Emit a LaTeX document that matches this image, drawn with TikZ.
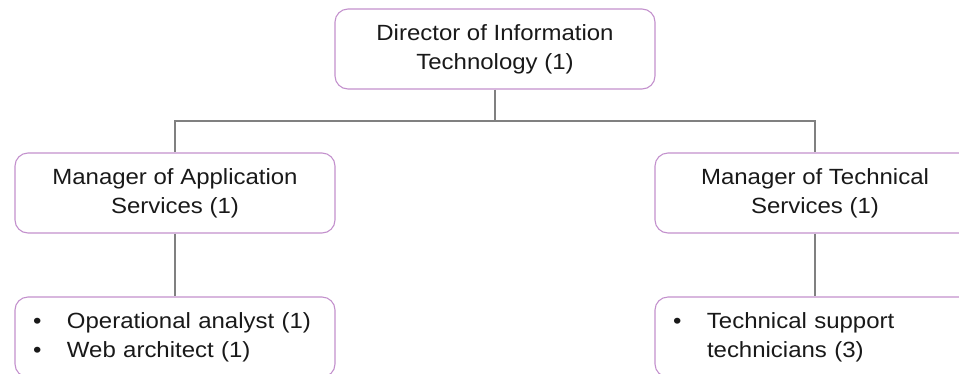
\documentclass[tikz,border=0pt]{standalone}
\usepackage{fontspec}
\setmainfont{Liberation Sans}[FakeStretch=1.09]
\definecolor{boxline}{RGB}{195,145,205}
\definecolor{linkgray}{RGB}{128,128,128}
\newcommand{\bul}{\makebox[34pt][l]{\textbullet}}

\begin{document}
\begin{tikzpicture}[x=1pt,y=-1pt,
  post/.style={draw=boxline,line width=1.1pt,rounded corners=13pt,
    minimum width=320pt,minimum height=80pt,inner sep=0pt,align=center,
    text=black!90,font=\fontsize{22}{29}\selectfont},
  list/.style={post,align=left,text width=284pt},
  link/.style={draw=linkgray,line width=1.2pt}]
  \useasboundingbox (0,0) rectangle (959,373);
  \clip (0,0) rectangle (959,373);
  % top of the chart
  \node[post]   (DIT)  at (495,49)  {Director of Information\\Technology (1)};
  \coordinate   (J)    at (495,121);
  % managers
  \node[post]   (MAS)  at (175,193) {Manager of Application\\Services (1)};
  \node[post]   (MTS)  at (815,193) {Manager of Technical\\Services (1)};
  % staff lists (cut off at the bottom)
  \node[list]   (AS)   at (175,337) {\bul Operational analyst (1)\\\bul Web architect (1)};
  \node[list]   (TS)   at (815,337) {\bul Technical support\\\hspace*{34pt}technicians (3)};
  \draw[link] (DIT.south) -- (J) -| (MAS.north);
  \draw[link] (J) -| (MTS.north);
  \draw[link] (MAS.south) -- (AS.north);
  \draw[link] (MTS.south) -- (TS.north);
\end{tikzpicture}
\end{document}
